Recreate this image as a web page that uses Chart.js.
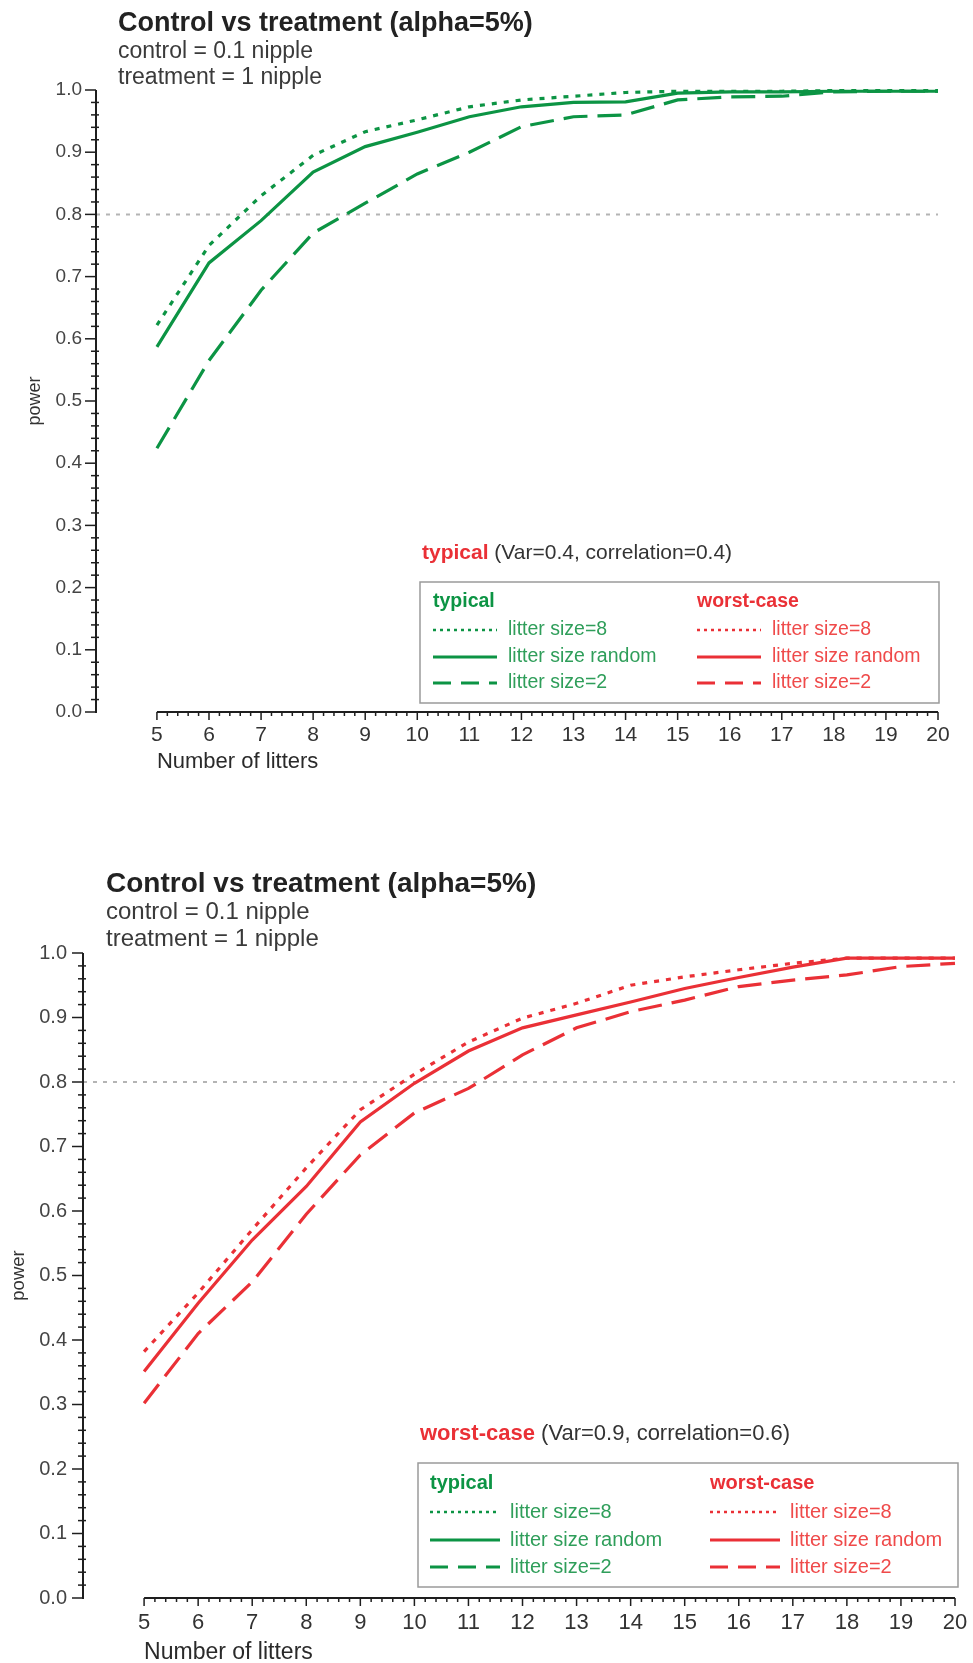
<!DOCTYPE html>
<html>
<head>
<meta charset="utf-8">
<script src="https://cdn.jsdelivr.net/npm/chart.js@4.4.1/dist/chart.umd.min.js"></script>
<style>
  body { margin: 0; background: #fff; }
  .panel { position: absolute; left: 0; width: 973px; }
</style>
</head>
<body>
<div class="panel" style="top:0; height:800px"><canvas id="typicalChart"></canvas></div>
<div class="panel" style="top:830px; height:833px"><canvas id="worstChart"></canvas></div>
<script>
// power vs number of litters
const litters = [5, 6, 7, 8, 9, 10, 11, 12, 13, 14, 15, 16, 17, 18, 19, 20];

// typical (Var=0.4, correlation=0.4)
const typicalSize8  = [0.622, 0.75, 0.83, 0.895, 0.933, 0.952, 0.973, 0.984, 0.99, 0.996, 0.998, 0.998, 0.998, 0.999, 0.999, 0.999];
const typicalRandom = [0.587, 0.722, 0.79, 0.868, 0.909, 0.932, 0.957, 0.973, 0.98, 0.981, 0.995, 0.997, 0.997, 0.998, 0.998, 0.998];
const typicalSize2  = [0.424, 0.565, 0.678, 0.77, 0.818, 0.865, 0.90, 0.941, 0.957, 0.96, 0.984, 0.989, 0.99, 0.997, 0.998, 0.998];

// worst-case (Var=0.9, correlation=0.6)
const worstSize8  = [0.382, 0.473, 0.571, 0.667, 0.757, 0.812, 0.862, 0.899, 0.922, 0.95, 0.963, 0.974, 0.984, 0.992, 0.992, 0.992];
const worstRandom = [0.351, 0.457, 0.555, 0.638, 0.738, 0.798, 0.848, 0.884, 0.904, 0.924, 0.945, 0.962, 0.978, 0.992, 0.992, 0.992];
const worstSize2  = [0.302, 0.41, 0.49, 0.595, 0.687, 0.752, 0.79, 0.842, 0.884, 0.909, 0.927, 0.948, 0.958, 0.966, 0.979, 0.984];

const powerTicks = [0, 0.1, 0.2, 0.3, 0.4, 0.5, 0.6, 0.7, 0.8, 0.9, 1.0];
const targetPower = 0.8;
const legendLabels = ['litter size=8', 'litter size random', 'litter size=2'];
const scenarioNames = ['typical', 'worst-case'];

const FONT = '"Liberation Sans", Arial, Helvetica, sans-serif';
Chart.defaults.font.family = FONT;

const GREEN = '#0c9444';
const RED = '#ea3036';
const scenarioColors = [GREEN, RED];
const scenarioText = ['#2f9e5a', '#ef4a4a'];

// dotted / solid / dashed, same order as legendLabels
const lineStyles = [
  { dash: [5, 7], width: 3.2 },
  { dash: [], width: 3.2 },
  { dash: [24, 10], width: 3.2 }
];
const sampleStyles = [
  { dash: [3, 4], width: 2.5 },
  { dash: [], width: 3 },
  { dash: [18, 10], width: 3 }
];

function seg(ctx, x1, y1, x2, y2) {
  ctx.beginPath();
  ctx.moveTo(x1, y1);
  ctx.lineTo(x2, y2);
  ctx.stroke();
}

// igor-style axes, headings and the boxed legend
function framePlugin(g) {
  return {
    id: 'frame',
    afterDraw(chart) {
      const ctx = chart.ctx;
      const xs = chart.scales.x, ys = chart.scales.y;
      const ax = chart.chartArea.left, ay = chart.chartArea.bottom;
      const first = litters[0], last = litters[litters.length - 1];
      ctx.save();

      // heading
      ctx.textAlign = 'left';
      ctx.textBaseline = 'alphabetic';
      ctx.fillStyle = '#222';
      ctx.font = `bold ${g.titleSize}px ${FONT}`;
      ctx.fillText('Control vs treatment (alpha=5%)', g.titleX, g.titleY);
      ctx.fillStyle = '#3a3a3a';
      ctx.font = `${g.subSize}px ${FONT}`;
      ['control = 0.1 nipple', 'treatment = 1 nipple'].forEach((t, i) => {
        ctx.fillText(t, g.titleX, g.subY + i * g.subGap);
      });

      // y axis
      ctx.strokeStyle = '#1e1e1e';
      ctx.lineWidth = 2;
      seg(ctx, ax, ys.getPixelForValue(0) + 1, ax, ys.getPixelForValue(1));
      ctx.lineWidth = 1.5;
      for (let k = 0; k <= 50; k++) {
        const py = ys.getPixelForValue(k / 50);
        if (k % 5 === 0) seg(ctx, ax - 11, py, ax, py);
        else seg(ctx, ax - 5, py, ax + 3, py);
      }

      // x axis, only over the litter range
      const x0 = xs.getPixelForValue(first), x1 = xs.getPixelForValue(last);
      ctx.lineWidth = 2;
      seg(ctx, x0, ay, x1, ay);
      ctx.lineWidth = 1.5;
      for (let k = 0; k <= (last - first) * 5; k++) {
        const px = xs.getPixelForValue(first + k / 5);
        seg(ctx, px, ay, px, ay + (k % 5 === 0 ? 8 : 4));
      }
      ctx.fillStyle = '#2a2a2a';
      ctx.font = `${g.axisTitleSize}px ${FONT}`;
      ctx.fillText('Number of litters', x0, g.axisTitleY);

      // scenario note
      const n = g.note;
      ctx.font = `bold ${n.size}px ${FONT}`;
      ctx.fillStyle = RED;
      ctx.fillText(n.bold, n.x, n.y);
      const w = ctx.measureText(n.bold).width;
      ctx.font = `${n.size}px ${FONT}`;
      ctx.fillStyle = '#333';
      ctx.fillText(n.rest, n.x + w, n.y);

      // legend box
      const L = g.legend;
      ctx.strokeStyle = '#9a9a9a';
      ctx.lineWidth = 1.5;
      ctx.strokeRect(L.x, L.y, L.w, L.h);
      ctx.textBaseline = 'middle';
      scenarioNames.forEach((name, c) => {
        const cx = L.x + L.colX[c];
        ctx.fillStyle = scenarioColors[c];
        ctx.font = `bold ${L.size}px ${FONT}`;
        ctx.fillText(name, cx, L.y + L.headY);
        ctx.font = `${L.size}px ${FONT}`;
        legendLabels.forEach((label, r) => {
          const yy = L.y + L.rowY[r];
          ctx.strokeStyle = scenarioColors[c];
          ctx.lineWidth = sampleStyles[r].width;
          ctx.setLineDash(sampleStyles[r].dash);
          seg(ctx, cx, yy, cx + L.sample, yy);
          ctx.setLineDash([]);
          ctx.fillStyle = scenarioText[c];
          ctx.fillText(label, cx + L.sample + L.gap, yy);
        });
      });
      ctx.restore();
    }
  };
}

function makeChart(id, g) {
  const sets = g.series.map((ys, i) => ({
    data: litters.map((x, j) => ({ x: x, y: ys[j] })),
    borderColor: g.color,
    borderWidth: lineStyles[i].width,
    borderDash: lineStyles[i].dash,
    pointRadius: 0,
    tension: 0,
    fill: false,
    clip: false
  }));
  // 80% power reference
  sets.push({
    data: [{ x: g.xMin, y: targetPower }, { x: litters[litters.length - 1], y: targetPower }],
    borderColor: '#b4b4b4',
    borderWidth: 2,
    borderDash: [4, 6],
    pointRadius: 0
  });

  return new Chart(document.getElementById(id), {
    type: 'line',
    data: { datasets: sets },
    options: {
      responsive: true,
      maintainAspectRatio: false,
      animation: false,
      layout: { padding: g.pad },
      plugins: { legend: { display: false }, tooltip: { enabled: false } },
      scales: {
        x: {
          type: 'linear',
          min: g.xMin,
          max: 20,
          grid: { display: false, drawTicks: true, tickLength: g.xTickGap },
          border: { display: false },
          ticks: { padding: 0, font: { size: g.xTickSize }, color: '#333', maxRotation: 0, autoSkip: false },
          afterBuildTicks: s => { s.ticks = litters.map(v => ({ value: v })); },
          afterFit: s => { s.height = g.xHeight; }
        },
        y: {
          min: 0,
          max: 1,
          grid: { display: false, drawTicks: true, tickLength: g.yTickGap },
          border: { display: false },
          ticks: { padding: 0, font: { size: g.yTickSize }, color: '#444', callback: v => v.toFixed(1) },
          afterBuildTicks: s => { s.ticks = powerTicks.map(v => ({ value: v })); },
          title: { display: true, text: 'power', font: { size: g.powerSize }, color: '#333', padding: { top: g.powerPad, bottom: 0 } },
          afterFit: s => { s.width = g.yWidth; }
        }
      }
    },
    plugins: [framePlugin(g)]
  });
}

makeChart('typicalChart', {
  series: [typicalSize8, typicalRandom, typicalSize2],
  color: GREEN,
  xMin: 3.83,
  pad: { left: 0, top: 90, right: 35, bottom: 28 },
  yWidth: 96, xHeight: 60,
  xTickGap: 11, yTickGap: 14,
  xTickSize: 21, yTickSize: 19,
  powerSize: 18, powerPad: 24,
  titleX: 118, titleY: 31, titleSize: 27,
  subSize: 23, subY: 58, subGap: 26,
  axisTitleSize: 22, axisTitleY: 768,
  note: { bold: 'typical', rest: ' (Var=0.4, correlation=0.4)', x: 422, y: 559, size: 21 },
  legend: { x: 420, y: 582, w: 519, h: 121, size: 19.5, headY: 20, rowY: [48, 75, 101], colX: [13, 277], sample: 64, gap: 11 }
});

makeChart('worstChart', {
  series: [worstSize8, worstRandom, worstSize2],
  color: RED,
  xMin: 3.87,
  pad: { left: 0, top: 123, right: 18, bottom: 5 },
  yWidth: 83, xHeight: 60,
  xTickGap: 12, yTickGap: 16,
  xTickSize: 22, yTickSize: 20,
  powerSize: 18.5, powerPad: 8,
  titleX: 106, titleY: 62, titleSize: 28,
  subSize: 24, subY: 89, subGap: 27,
  axisTitleSize: 23, axisTitleY: 829,
  note: { bold: 'worst-case', rest: ' (Var=0.9, correlation=0.6)', x: 420, y: 610, size: 22 },
  legend: { x: 418, y: 633, w: 540, h: 124, size: 20, headY: 20, rowY: [49, 77, 104], colX: [12, 292], sample: 70, gap: 10 }
});
</script>
</body>
</html>
